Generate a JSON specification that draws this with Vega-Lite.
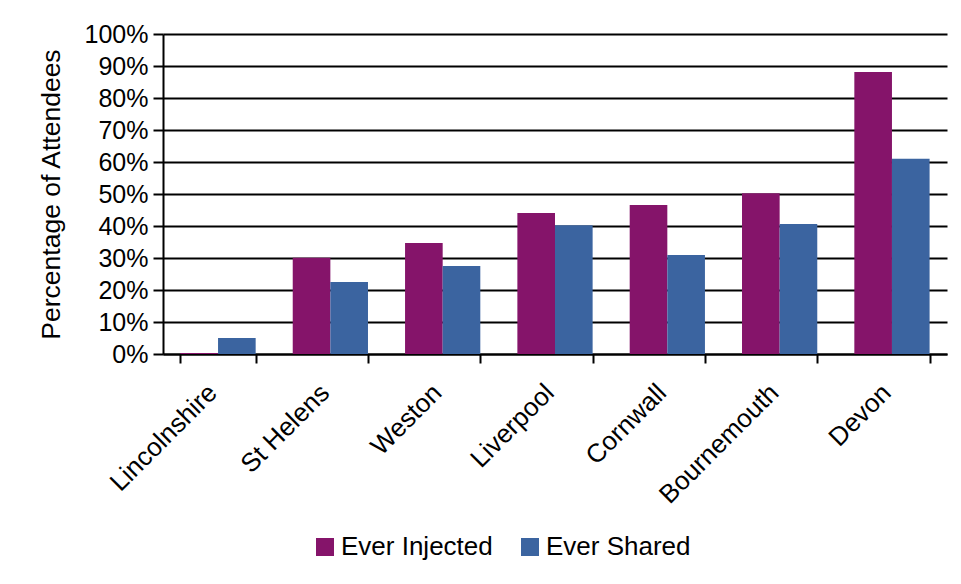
{
  "$schema": "https://vega.github.io/schema/vega-lite/v6.json",
  "width": 784,
  "height": 320,
  "autosize": {"type": "none"},
  "padding": {"left": 163, "top": 34, "right": 14, "bottom": 230},
  "background": "white",
  "data": {
    "values": [
      {"site": "Lincolnshire", "series": "Ever Injected", "value": 0.003},
      {"site": "Lincolnshire", "series": "Ever Shared", "value": 0.05},
      {"site": "St Helens", "series": "Ever Injected", "value": 0.301},
      {"site": "St Helens", "series": "Ever Shared", "value": 0.225},
      {"site": "Weston", "series": "Ever Injected", "value": 0.347},
      {"site": "Weston", "series": "Ever Shared", "value": 0.275},
      {"site": "Liverpool", "series": "Ever Injected", "value": 0.441},
      {"site": "Liverpool", "series": "Ever Shared", "value": 0.402},
      {"site": "Cornwall", "series": "Ever Injected", "value": 0.466},
      {"site": "Cornwall", "series": "Ever Shared", "value": 0.309},
      {"site": "Bournemouth", "series": "Ever Injected", "value": 0.502},
      {"site": "Bournemouth", "series": "Ever Shared", "value": 0.406},
      {"site": "Devon", "series": "Ever Injected", "value": 0.881},
      {"site": "Devon", "series": "Ever Shared", "value": 0.61}
    ]
  },
  "mark": {"type": "bar"},
  "encoding": {
    "x": {
      "field": "site",
      "type": "nominal",
      "sort": ["Lincolnshire", "St Helens", "Weston", "Liverpool", "Cornwall", "Bournemouth", "Devon"],
      "scale": {"paddingInner": 0.33, "paddingOuter": 0.155},
      "axis": {
        "title": null,
        "labelAngle": -45,
        "labelAlign": "right",
        "labelBaseline": "alphabetic",
        "labelDx": 7,
        "labelPadding": 31,
        "tickBand": "extent",
        "tickSize": 9,
        "tickWidth": 2,
        "tickColor": "black",
        "domainColor": "black",
        "domainWidth": 2,
        "labelFontSize": 26,
        "labelColor": "black",
        "grid": false
      }
    },
    "xOffset": {
      "field": "series",
      "sort": ["Ever Injected", "Ever Shared"],
      "scale": {"paddingInner": 0, "paddingOuter": 0}
    },
    "y": {
      "field": "value",
      "type": "quantitative",
      "scale": {"domain": [0, 1], "nice": false},
      "axis": {
        "title": "Percentage of Attendees",
        "format": ".0%",
        "values": [0, 0.1, 0.2, 0.3, 0.4, 0.5, 0.6, 0.7, 0.8, 0.9, 1],
        "grid": true,
        "gridColor": "black",
        "gridWidth": 2,
        "tickSize": 10,
        "tickWidth": 2,
        "tickColor": "black",
        "domainColor": "black",
        "domainWidth": 2,
        "labelFontSize": 25,
        "labelPadding": 5,
        "labelColor": "black",
        "titleFontSize": 26.5,
        "titleFontWeight": "normal",
        "titleColor": "black",
        "titlePadding": 19
      }
    },
    "color": {
      "field": "series",
      "type": "nominal",
      "sort": ["Ever Injected", "Ever Shared"],
      "scale": {"domain": ["Ever Injected", "Ever Shared"], "range": ["#85146A", "#3B64A0"]},
      "legend": {
        "title": null,
        "orient": "none",
        "direction": "horizontal",
        "legendX": 149,
        "legendY": 500,
        "symbolType": "square",
        "symbolSize": 324,
        "symbolStrokeWidth": 0,
        "symbolOpacity": 1,
        "labelFontSize": 26,
        "labelColor": "black",
        "labelOffset": 3,
        "columnPadding": 24
      }
    }
  },
  "config": {
    "font": "Liberation Sans",
    "view": {"stroke": null}
  }
}
